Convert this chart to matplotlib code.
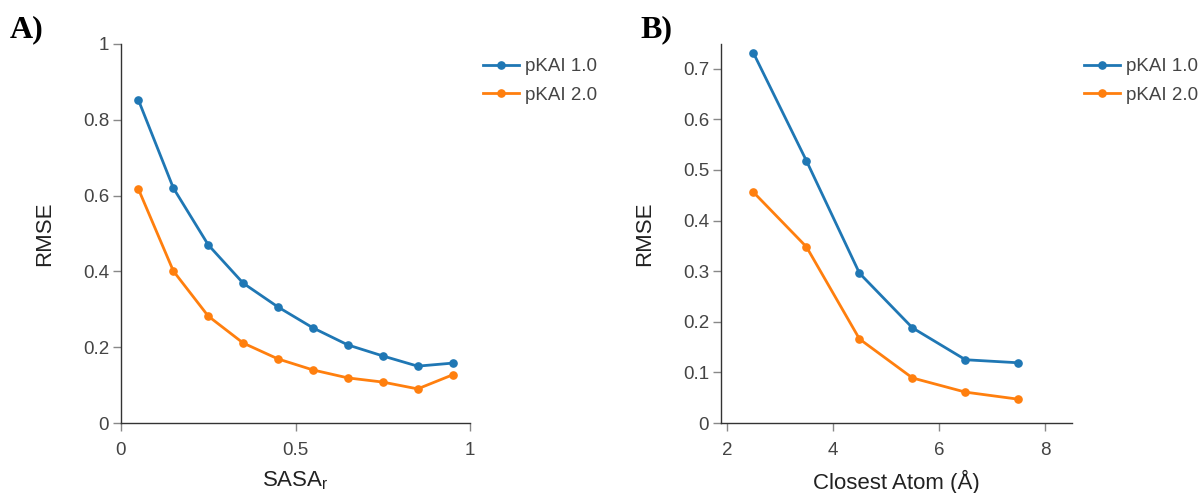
import matplotlib
matplotlib.use("Agg")
import matplotlib.pyplot as plt
from matplotlib.ticker import FuncFormatter

plt.rcParams['font.family'] = ['Liberation Sans', 'DejaVu Sans']
plt.rcParams['mathtext.fontset'] = 'custom'
plt.rcParams['mathtext.rm'] = 'Liberation Sans'

# RMSE binned by relative solvent accessibility
sasa_bins = [0.05, 0.15, 0.25, 0.35, 0.45, 0.55, 0.65, 0.75, 0.85, 0.95]
sasa_pkai1 = [0.852, 0.620, 0.470, 0.369, 0.306, 0.251, 0.206, 0.177, 0.150, 0.158]
sasa_pkai2 = [0.617, 0.401, 0.282, 0.211, 0.169, 0.140, 0.119, 0.108, 0.090, 0.127]

# RMSE binned by distance to closest atom
dist_bins = [2.5, 3.5, 4.5, 5.5, 6.5, 7.5]
dist_pkai1 = [0.731, 0.518, 0.296, 0.188, 0.125, 0.119]
dist_pkai2 = [0.456, 0.348, 0.166, 0.089, 0.061, 0.047]

series_names = ["pKAI 1.0", "pKAI 2.0"]
colors = ["#1f77b4", "#ff7f0e"]
text_grey = "#444444"


def num(v, pos):
    return f"{v:g}"


fig = plt.figure(figsize=(12.01, 4.93), dpi=100)
ax_a = fig.add_axes([121/1201, 1-423/493, 349/1201, 379/493])
ax_b = fig.add_axes([721/1201, 1-423/493, 351/1201, 379/493])


def style(ax):
    for s in ("top", "right"):
        ax.spines[s].set_visible(False)
    for s in ("left", "bottom"):
        ax.spines[s].set_color("#333333")
        ax.spines[s].set_linewidth(1.0)
    ax.tick_params(color="#888888", labelsize=13.5, length=5.5, width=1,
                   labelcolor=text_grey)
    ax.tick_params(axis="x", pad=8)
    ax.tick_params(axis="y", pad=3)
    ax.xaxis.set_major_formatter(FuncFormatter(num))
    ax.yaxis.set_major_formatter(FuncFormatter(num))


for ax, xs, ys1, ys2, legx in [(ax_a, sasa_bins, sasa_pkai1, sasa_pkai2, 483),
                               (ax_b, dist_bins, dist_pkai1, dist_pkai2, 1084)]:
    for ys, name, c in zip([ys1, ys2], series_names, colors):
        ax.plot(xs, ys, color=c, lw=2, marker="o", ms=5.2, label=name, clip_on=False)
    style(ax)
    ax.set_ylabel("RMSE", fontsize=16, color="#222222", labelpad=20)
    ax.legend(loc="upper left", bbox_to_anchor=(legx/1201, 1-58/493),
              bbox_transform=fig.transFigure, frameon=False, fontsize=13.5,
              handlelength=1.9, handletextpad=0.32, labelspacing=0.6,
              borderpad=0, borderaxespad=0, labelcolor=text_grey)

ax_a.set_xlim(0, 1)
ax_a.set_ylim(0, 1)
ax_a.set_xticks([0, 0.5, 1])
ax_a.set_yticks([0, 0.2, 0.4, 0.6, 0.8, 1])
ax_a.set_xlabel("SASA$_\\mathrm{r}$", fontsize=16, color="#222222", labelpad=8)

ax_b.set_xlim(1.887, 8.51)
ax_b.set_ylim(0, 0.749)
ax_b.set_xticks([2, 4, 6, 8])
ax_b.set_yticks([0, 0.1, 0.2, 0.3, 0.4, 0.5, 0.6, 0.7])
ax_b.set_xlabel("Closest Atom (Å)", fontsize=16, color="#222222", labelpad=8)

fig.text(10/1201, 1-30/493, "A)", fontsize=23, fontweight="bold",
         family="Liberation Serif", va="center", ha="left")
fig.text(640/1201, 1-30/493, "B)", fontsize=23, fontweight="bold",
         family="Liberation Serif", va="center", ha="left")

fig.savefig("out.png", dpi=100)
